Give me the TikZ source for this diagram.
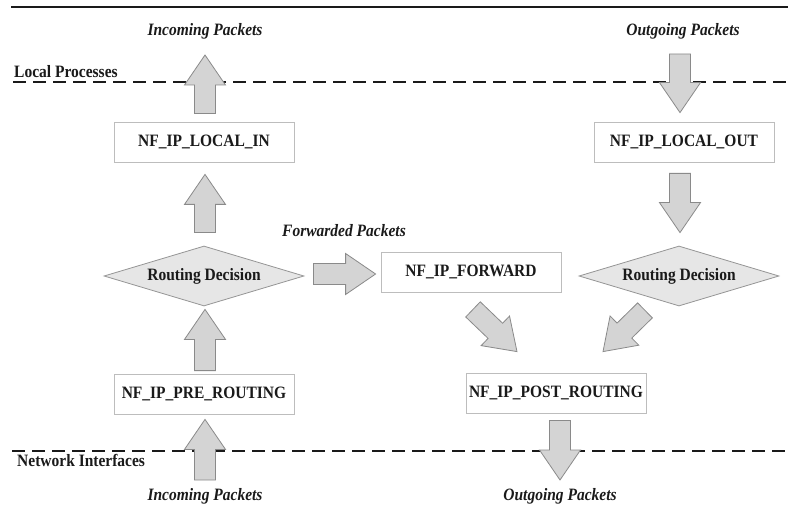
\documentclass[tikz,border=0pt]{standalone}
\usepackage{fontspec}
\usepackage{graphicx}
\setmainfont{Liberation Serif}
\usetikzlibrary{calc,shapes.geometric}
\definecolor{arrfill}{HTML}{D4D4D4}
\definecolor{arrgray}{HTML}{8A8A8A}
\definecolor{diafill}{HTML}{E6E6E6}
\definecolor{diagray}{HTML}{959595}
\definecolor{boxgray}{HTML}{BDBDBD}
\definecolor{ink}{HTML}{1A1A1A}
\newcommand\fs{\fontsize{15.5}{18}\selectfont}
\newcommand\tall[1]{\scalebox{1}[1.12]{#1}}
\tikzset{
  hook/.style={draw=boxgray, line width=0.8pt, minimum width=180pt, minimum height=40pt,
    inner sep=0pt, font=\fs\bfseries, fill=white, text=ink},
  decision/.style={diamond, aspect=3.33, draw=diagray, fill=diafill, line width=0.8pt,
    minimum width=200pt, minimum height=60pt, inner sep=0pt, font=\fs\bfseries, text=ink},
  lbl/.style={font=\fs\bfseries\itshape, inner sep=0pt, text=ink},
  zone/.style={font=\fs\bfseries, inner sep=0pt, anchor=west, text=ink},
  barrowstyle/.style={draw=arrgray, fill=arrfill, line width=0.8pt, line join=miter},
  boundary/.style={dash pattern=on 13pt off 7pt, line width=1.4pt, draw=ink}
}
\newcommand\barrow[2]{%
  \draw[barrowstyle] let \p1=(#1), \p2=(#2),
    \n1={atan2(\y2-\y1,\x2-\x1)}, \n2={veclen(\x2-\x1,\y2-\y1)} in
    ($(\p1)+(\n1+90:10.5pt)$)
    -- ($(\p1)+(\n1:{\n2-30pt})+(\n1+90:10.5pt)$)
    -- ($(\p1)+(\n1:{\n2-30pt})+(\n1+90:20.5pt)$)
    -- (\p2)
    -- ($(\p1)+(\n1:{\n2-30pt})+(\n1-90:20.5pt)$)
    -- ($(\p1)+(\n1:{\n2-30pt})+(\n1-90:10.5pt)$)
    -- ($(\p1)+(\n1-90:10.5pt)$) -- cycle;}
\begin{document}
\begin{tikzpicture}[x=1pt,y=-1pt]
\useasboundingbox (0,0) rectangle (788,508);
% boundaries
\draw[line width=1.8pt, draw=ink] (11,7) -- (788,7);
\draw[boundary] (13,82) -- (788,82);
\draw[boundary] (12,451) -- (788,451);
% labels
\node[lbl] (intop) at (205,31) {\tall{Incoming Packets}};
\node[lbl] (outtop) at (683,31) {\tall{Outgoing Packets}};
\node[zone] (local) at (14,72) {\tall{Local Processes}};
\node[lbl] (fwd) at (344,231) {\tall{Forwarded Packets}};
\node[zone] (net) at (17,460) {\tall{Network Interfaces}};
\node[lbl] (inbot) at (205,496) {\tall{Incoming Packets}};
\node[lbl] (outbot) at (560,496) {\tall{Outgoing Packets}};
% hooks
\node[hook] (localin) at (204,142) {\tall{NF\_IP\_LOCAL\_IN}};
\node[hook] (localout) at (684,142) {\tall{NF\_IP\_LOCAL\_OUT}};
\node[decision] (rd1) at (204,276) {\tall{Routing Decision}};
\node[decision] (rd2) at (679,276) {\tall{Routing Decision}};
\node[hook] (forward) at (471,272) {\tall{NF\_IP\_FORWARD}};
\node[hook] (pre) at (204,394) {\tall{NF\_IP\_PRE\_ROUTING}};
\node[hook] (post) at (556,393) {\tall{NF\_IP\_POST\_ROUTING}};
% block arrows
\barrow{$(localin.north)+(1,-8)$}{$(intop)+(0,24)$}
\barrow{$(rd1.north)+(1,-13)$}{$(localin.south)+(1,12)$}
\barrow{$(pre.north)+(1,-3)$}{$(rd1.south)+(1,3)$}
\barrow{$(inbot)+(0,-16)$}{$(pre.south)+(1,5)$}
\barrow{$(outtop)+(-3,23)$}{$(localout.north)+(-4,-9)$}
\barrow{$(localout.south)+(-4,11)$}{$(rd2.north)+(1,-13)$}
\barrow{$(rd1.east)+(9,-2)$}{$(forward.west)+(-5,2)$}
\barrow{$(forward.south)+(2,17)$}{$(post.north)+(-39,-21)$}
\barrow{$(rd2.south)+(-34,4)$}{$(post.north)+(47,-21)$}
\barrow{$(post.south)+(4,7)$}{$(outbot)+(0,-16)$}
\end{tikzpicture}
\end{document}
